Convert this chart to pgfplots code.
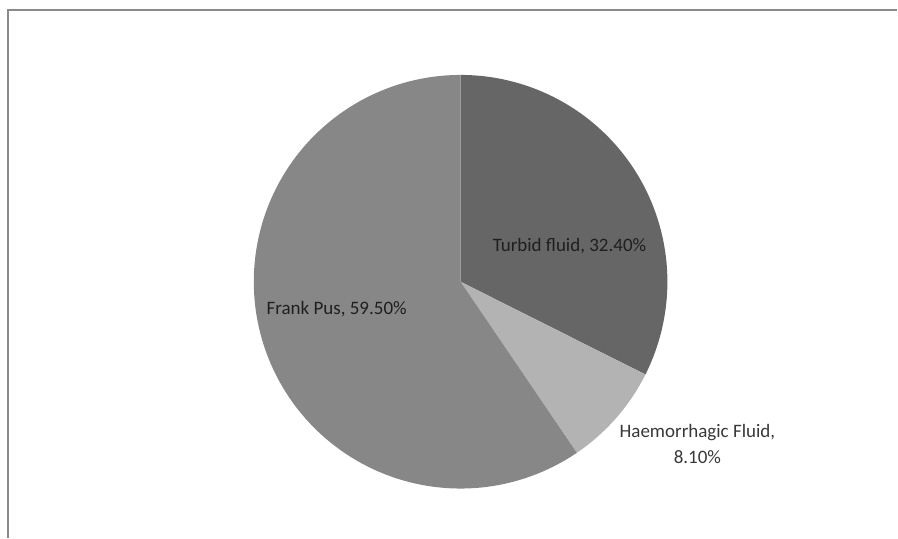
\documentclass[border=0pt]{standalone}
\usepackage{pgfplots}
\usepackage{pgfplotstable}
\pgfplotsset{compat=1.18}
\usepackage{fontspec}
\setmainfont{Carlito}
\definecolor{cTurbid}{HTML}{666666}
\definecolor{cHaem}{HTML}{B3B3B3}
\definecolor{cPus}{HTML}{878787}
\definecolor{frame}{HTML}{8A8A8A}
\pgfplotstableread{
label value
Turbid 32.4
Haemorrhagic 8.1
Pus 59.5
}\piedata
\pgfplotstablegetelem{0}{value}\of\piedata \let\vA\pgfplotsretval
\pgfplotstablegetelem{1}{value}\of\piedata \let\vB\pgfplotsretval
\pgfplotstablegetelem{2}{value}\of\piedata \let\vC\pgfplotsretval
\pgfmathsetmacro\aA{90}
\pgfmathsetmacro\aB{\aA-3.6*\vA}
\pgfmathsetmacro\aC{\aB-3.6*\vB}
\pgfmathsetmacro\aD{\aC-3.6*\vC}
\begin{document}
\begin{tikzpicture}
\begin{axis}[
  width=898bp, height=538bp, scale only axis,
  xmin=0, xmax=898, ymin=0, ymax=538,
  hide axis, clip=false,
]
\path (axis cs:0,0) rectangle (axis cs:898,538);
\addplot[draw=none, fill=cTurbid, domain=\aB:\aA, samples=80, variable=\t]
  ({461+207*cos(\t)},{256+207*sin(\t)}) -- (axis cs:461,256) -- cycle;
\addplot[draw=none, fill=cHaem, domain=\aC:\aB, samples=40, variable=\t]
  ({461+207*cos(\t)},{256+207*sin(\t)}) -- (axis cs:461,256) -- cycle;
\addplot[draw=none, fill=cPus, domain=\aD:\aC, samples=120, variable=\t]
  ({461+207*cos(\t)},{256+207*sin(\t)}) -- (axis cs:461,256) -- cycle;
\draw[frame, line width=1.6bp] (axis cs:8,0) -- (axis cs:8,528) -- (axis cs:898,528);
\node[font=\fontsize{19bp}{26bp}\selectfont, text=black!88] at (axis cs:570,292) {Turbid fluid, 32.40\%};
\node[font=\fontsize{19bp}{26bp}\selectfont, text=black!78, align=center] at (axis cs:698,94) {Haemorrhagic Fluid,\\8.10\%};
\node[font=\fontsize{19bp}{26bp}\selectfont, text=black!88] at (axis cs:337,229) {Frank Pus, 59.50\%};
\end{axis}
\end{tikzpicture}
\end{document}
